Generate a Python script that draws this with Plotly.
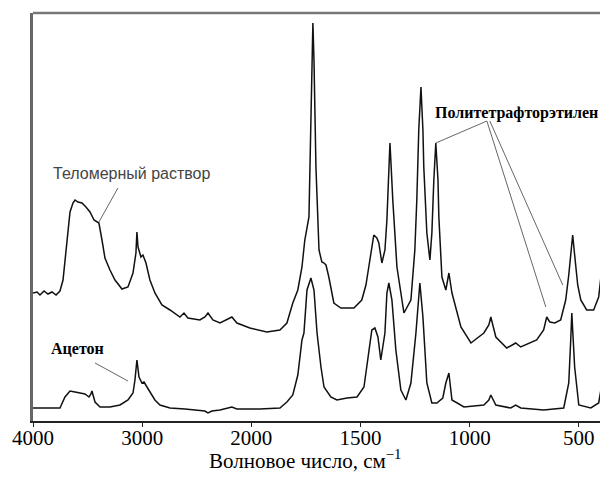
import plotly.graph_objects as go

# ---------------- data (wavenumber, cm-1 ; absorbance, arbitrary units) -------------
telomer_wn = [4000, 3963, 3936, 3899, 3863, 3826, 3789, 3753, 3725, 3689, 3661, 3634, 3615, 3588,
              3551, 3515, 3478, 3441, 3396, 3368, 3341, 3295, 3249, 3185, 3130, 3084, 3057, 3048,
              3038, 3011, 2993, 2965, 2929, 2883, 2819, 2745, 2654, 2617, 2581, 2471, 2425, 2397,
              2352, 2287, 2178, 2132, 2013, 1929, 1869, 1837, 1810, 1787, 1768, 1755, 1736, 1727,
              1722, 1718, 1713, 1704, 1690, 1677, 1667, 1658, 1645, 1622, 1590, 1530, 1494, 1475,
              1462, 1448, 1439, 1425, 1416, 1402, 1388, 1379, 1370, 1365, 1361, 1352, 1333, 1301,
              1269, 1251, 1242, 1233, 1223, 1214, 1210, 1196, 1182, 1173, 1164, 1155, 1145, 1141,
              1127, 1109, 1095, 1081, 1040, 994, 935, 912, 903, 894, 880, 830, 789, 766, 693, 661,
              647, 633, 610, 583, 560, 546, 537, 528, 519, 505, 491, 464, 432, 409, 395, 381, 376]
telomer_abs = [128, 129, 126, 130, 127, 129, 126, 130, 141, 181, 209, 218, 221, 219,
               218, 214, 209, 201, 198, 181, 163, 151, 141, 132, 134, 148, 168, 189,
               174, 164, 166, 158, 141, 128, 116, 111, 104, 108, 103, 101, 104, 108,
               101, 98, 104, 98, 93, 89, 91, 98, 118, 131, 154, 181, 204, 301,
               381, 398, 361, 254, 171, 159, 158, 156, 144, 118, 113, 113, 121, 136,
               154, 176, 186, 183, 178, 158, 171, 201, 251, 278, 261, 221, 154, 108,
               121, 171, 221, 291, 334, 291, 254, 188, 161, 188, 241, 278, 241, 204,
               144, 131, 148, 128, 94, 78, 88, 96, 104, 96, 84, 73, 78, 74, 81, 91,
               104, 99, 98, 101, 121, 146, 168, 186, 166, 136, 121, 111, 111, 124, 151, 186, 196]

acetone_wn = [4000, 3890, 3753, 3707, 3661, 3615, 3570, 3524, 3487, 3469, 3460, 3432, 3386, 3295,
              3203, 3130, 3084, 3066, 3048, 3029, 3002, 2983, 2956, 2929, 2883, 2837, 2745, 2608,
              2471, 2425, 2397, 2361, 2287, 2178, 2132, 1961, 1869, 1837, 1810, 1787, 1768, 1759,
              1745, 1727, 1713, 1699, 1681, 1667, 1636, 1608, 1562, 1516, 1484, 1462, 1448, 1434,
              1420, 1407, 1388, 1379, 1370, 1356, 1338, 1315, 1292, 1269, 1246, 1228, 1214, 1196,
              1173, 1150, 1123, 1109, 1095, 1081, 1026, 935, 912, 903, 889, 880, 812, 789, 766,
              661, 569, 546, 537, 532, 528, 519, 500, 445, 409, 395, 381, 376]
acetone_abs = [13, 13, 13, 24, 30, 29, 28, 27, 24, 27, 30, 19, 14, 14,
               16, 21, 28, 41, 61, 44, 38, 39, 34, 29, 21, 16, 13, 12,
               11, 10, 8, 10, 11, 14, 12, 12, 13, 19, 26, 46, 81, 88,
               131, 143, 131, 88, 54, 34, 24, 21, 23, 24, 34, 68, 91, 93,
               84, 61, 88, 128, 138, 121, 71, 31, 21, 38, 88, 138, 104, 38,
               18, 18, 23, 38, 48, 21, 14, 16, 21, 26, 19, 16, 13, 16, 13,
               11, 13, 38, 81, 108, 91, 54, 16, 13, 18, 36, 28, 26]

tick_wn = [4000, 3000, 2000, 1500, 1000, 500]
tick_text = ["4000", "3000", "2000", "1500", "1000", "500"]


# piecewise IR wavenumber scale: 1000 cm-1 per unit above 2000, 500 cm-1 per unit below
def scale(w):
    return (4000 - w) / 1000 if w >= 2000 else 2 + (2000 - w) / 500


fig = go.Figure()
fig.add_trace(go.Scatter(x=[scale(w) for w in telomer_wn], y=telomer_abs, mode="lines",
                         line=dict(color="#111111", width=1.5), showlegend=False))
fig.add_trace(go.Scatter(x=[scale(w) for w in acetone_wn], y=acetone_abs, mode="lines",
                         line=dict(color="#111111", width=1.5), showlegend=False))

serif = "Liberation Serif"
lead = dict(color="#666666", width=1)
# leader lines
for x0, y0, x1, y1 in [(0.778, 233, 0.604, 199),
                       (0.568, 58, 0.870, 40),
                       (3.690, 278, 4.158, 300),
                       (4.158, 300, 4.698, 114),
                       (4.185, 300, 4.853, 136)]:
    fig.add_shape(type="line", x0=x0, y0=y0, x1=x1, y1=y1, xref="x", yref="y", line=lead)

# frame: top and left grey, right faint
fig.add_shape(type="line", xref="paper", yref="paper", x0=0, x1=1, y0=1, y1=1,
              line=dict(color="#777777", width=2.5))
fig.add_shape(type="line", xref="paper", yref="paper", x0=1, x1=1, y0=0, y1=1,
              line=dict(color="#dddddd", width=1))

fig.add_annotation(x=0.907, y=248, xref="x", yref="y", text="Теломерный раствор", showarrow=False,
                   font=dict(family="Liberation Sans", size=16, color="#444444"))
fig.add_annotation(x=0.408, y=73, xref="x", yref="y", text="<b>Ацетон</b>", showarrow=False,
                   font=dict(family=serif, size=16, color="#000000"))
fig.add_annotation(x=4.432, y=308, xref="x", yref="y", text="<b>Политетрафторэтилен</b>",
                   showarrow=False, font=dict(family=serif, size=16, color="#000000"))
fig.add_annotation(x=0.476, y=-0.132, xref="paper", yref="paper",
                   text="Волновое число, см<sup>−1</sup>", showarrow=False,
                   font=dict(family=serif, size=21, color="#000000"))

# the page adds an 8 px body margin, so the figure is sized to sit inside the window
fig.update_layout(
    width=600, height=474,
    margin=dict(l=25, r=3, t=5, b=61),
    paper_bgcolor="white", plot_bgcolor="white",
    xaxis=dict(range=[0, 5.24], tickvals=[scale(w) for w in tick_wn], ticktext=tick_text,
               automargin=False,
               showgrid=False, zeroline=False, showline=True, linecolor="#222222", linewidth=1.5,
               ticks="outside", ticklen=4, tickcolor="#222222", ticklabelstandoff=-7,
               tickfont=dict(family=serif, size=21, color="#000000")),
    yaxis=dict(range=[0, 408], showgrid=False, zeroline=False, showticklabels=False,
               automargin=False,
               showline=True, linecolor="#666666", linewidth=2.5, ticks=""),
)

fig.write_html("out.html")
